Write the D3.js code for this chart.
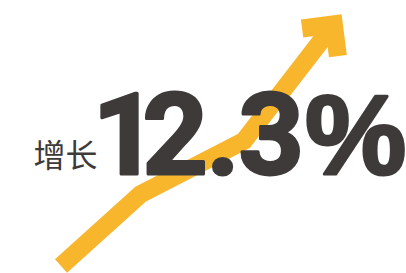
<!DOCTYPE html>
<meta charset="utf-8">
<head>
  <title>增长 12.3%</title>
  <style>
    body { margin: 0; background: #fff; }
    #viz { display: block; }
  </style>
</head>
<body>
  <svg id="viz" width="406" height="273">
    <g class="line"></g>
    <g class="labels"></g>
  </svg>

  <script src="https://d3js.org/d3.v7.min.js"></script>
  <script>
    // trend points (abstract units)
    var steps = [0, 3, 6.9, 10];
    var trend = [0, 3.1, 5.4, 10];
    var label = "增长";
    var value = "12.3%";

    var width = 406;
    var height = 273;
    var yellow = "#f8b62d";
    var ink = "#3e3a39";
    var lineWidth = 18;

    var x = d3.scaleLinear().domain([0, 10]).range([61, 326]);
    var y = d3.scaleLinear().domain([0, 10]).range([266, 34.5]);

    var pts = steps.map((s, i) => [x(s), y(trend[i])]);

    var svg = d3.select("#viz");

    svg.select(".line").append("path")
      .attr("d", d3.line()(pts))
      .attr("fill", "none")
      .attr("stroke", yellow)
      .attr("stroke-width", lineWidth)
      .attr("stroke-linejoin", "miter")
      .attr("stroke-miterlimit", 10);

    // arrow head: a right-angle chevron ahead of the last point
    var a = pts[pts.length - 2], b = pts[pts.length - 1];
    var len = Math.hypot(b[0] - a[0], b[1] - a[1]);
    var d = [(b[0] - a[0]) / len, (b[1] - a[1]) / len];
    var tip = [b[0] + d[0] * 25.5, b[1] + d[1] * 25.5];
    var c = Math.SQRT1_2;
    var u1 = [(-d[0] + d[1]) * c, (-d[1] - d[0]) * c];
    var u2 = [(-d[0] - d[1]) * c, (-d[1] + d[0]) * c];
    var arm = 41;
    function at(p, q) {
      return [tip[0] + u1[0] * p + u2[0] * q, tip[1] + u1[1] * p + u2[1] * q];
    }
    var head = [at(0, 0), at(arm, 0), at(arm, lineWidth), at(lineWidth, lineWidth),
      at(lineWidth, arm), at(0, arm)];

    svg.select(".line").append("path")
      .attr("d", d3.line()(head) + "Z")
      .attr("fill", yellow);

    var labels = svg.select(".labels");

    labels.append("text")
      .attr("x", 33.5)
      .attr("y", 166.5)
      .attr("fill", ink)
      .attr("font-family", "'Noto Sans CJK SC', sans-serif")
      .attr("font-size", 32)
      .text(label);

    // big number: find each glyph's ink by drawing it on a canvas,
    // then place it where the reference has it
    var bigSize = 114;
    var bigStroke = 3;
    var digitFamily = "Roboto";
    var pctFamily = "'Liberation Sans'";
    var cv = document.createElement("canvas");
    cv.width = 240; cv.height = 200;
    var ctx = cv.getContext("2d");
    function inkOf(ch, family) {
      ctx.clearRect(0, 0, cv.width, cv.height);
      ctx.font = "bold " + bigSize + "px " + family;
      ctx.fillStyle = "#000";
      ctx.fillText(ch, 60, 150);
      var px = ctx.getImageData(0, 0, cv.width, cv.height).data;
      var lo = cv.width, hi = -1;
      for (var i = 0; i < cv.width; i++) {
        for (var j = 0; j < cv.height; j++) {
          if (px[(j * cv.width + i) * 4 + 3] > 100) {
            if (i < lo) lo = i;
            if (i > hi) hi = i;
          }
        }
      }
      return [lo - 60, hi + 1 - 60];
    }
    var h = bigStroke / 2;
    // [edge, target]: "r" = ink right, "l" = ink left, "c" = ink centre
    var glyphAt = [["r", 139], ["l", 145], ["l", 212], ["l", 240], ["c", 355.5]];
    var chars = value.split("");
    var xs = chars.map(function (ch, i) {
      var fam = i === chars.length - 1 ? pctFamily : digitFamily;
      var e = inkOf(ch, fam), g = glyphAt[i];
      if (g[0] === "r") return g[1] - h - e[1];
      if (g[0] === "l") return g[1] + h - e[0];
      return g[1] - (e[0] + e[1]) / 2;
    });

    var big = labels.append("text")
      .attr("x", xs.slice(0, -1).join(" "))
      .attr("y", 174.2)
      .attr("fill", ink)
      .attr("stroke", ink)
      .attr("stroke-width", bigStroke)
      .attr("stroke-linejoin", "round")
      .attr("font-family", digitFamily)
      .attr("font-weight", "bold")
      .attr("font-size", bigSize);

    big.append("tspan").text(chars.slice(0, -1).join(""));
    big.append("tspan")
      .attr("x", xs[xs.length - 1])
      .attr("font-family", pctFamily)
      .text(chars[chars.length - 1]);
  </script>
</body>
</html>
